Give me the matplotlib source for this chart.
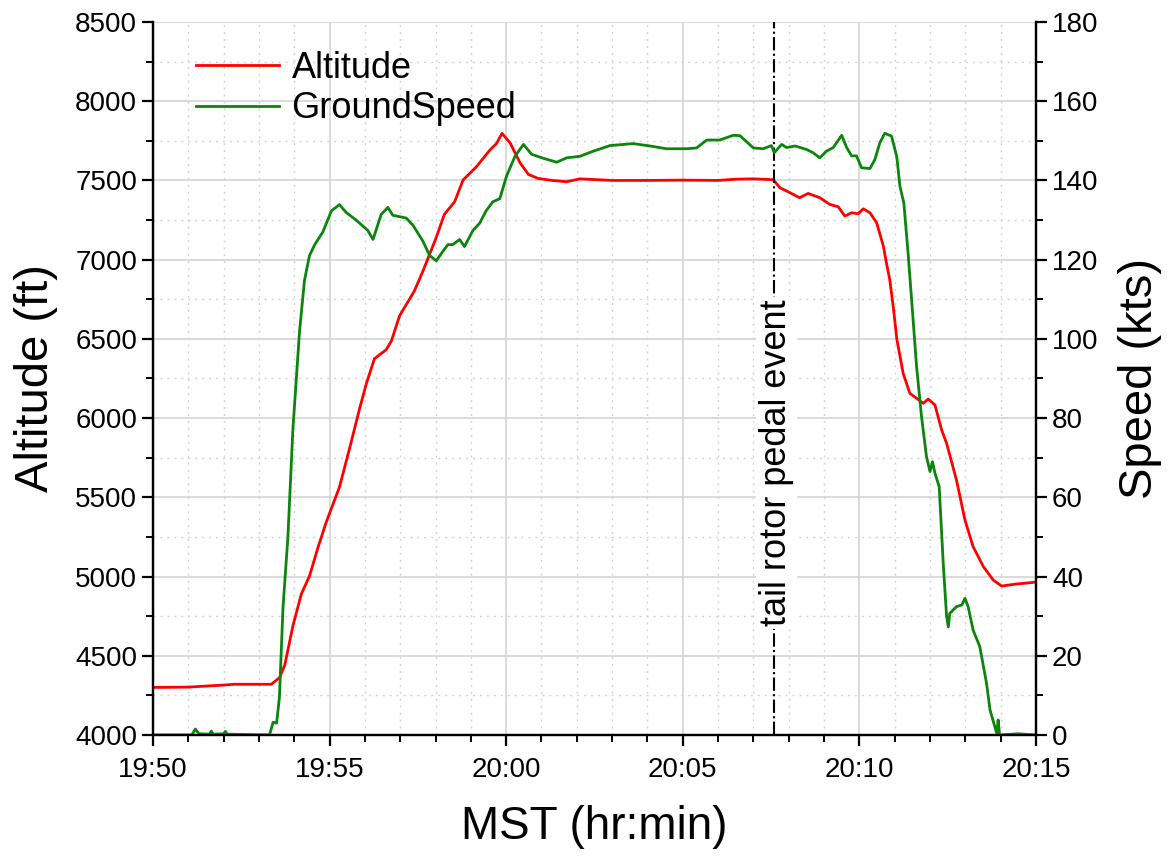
import matplotlib
matplotlib.use('Agg')
import matplotlib.pyplot as plt
from matplotlib.ticker import MultipleLocator

plt.rcParams['font.family'] = ['Liberation Sans', 'DejaVu Sans']

# minutes after 19:50
alt_t = [0.0, 1.0, 2.0, 2.3, 3.35, 3.58, 3.73, 3.96, 4.2, 4.43, 4.67, 4.9, 5.28, 5.57,
         5.85, 6.04, 6.27, 6.6, 6.75, 6.98, 7.4, 7.64, 8.02, 8.25, 8.54, 8.78, 9.16,
         9.54, 9.73, 9.88, 10.11, 10.39, 10.63, 10.9, 11.3, 11.71, 12.09, 13.0, 14.0,
         15.0, 16.0, 16.5, 17.0, 17.56, 17.75, 18.03, 18.31, 18.55, 18.88, 19.16, 19.4,
         19.59, 19.78, 19.97, 20.11, 20.3, 20.49, 20.68, 20.77, 20.86, 20.96, 21.06,
         21.24, 21.43, 21.62, 21.81, 21.95, 22.14, 22.33, 22.47, 22.75, 22.99, 23.22,
         23.51, 23.79, 24.03, 24.45, 24.97]
altitude = [4300, 4302, 4315, 4320, 4320, 4361, 4440, 4687, 4890, 5002, 5182, 5340, 5565,
            5812, 6060, 6217, 6375, 6431, 6487, 6645, 6802, 6926, 7140, 7286, 7365, 7503,
            7587, 7692, 7734, 7797, 7738, 7612, 7538, 7513, 7500, 7492, 7510, 7500, 7500,
            7502, 7500, 7508, 7510, 7505, 7454, 7423, 7391, 7418, 7391, 7349, 7334, 7275,
            7296, 7290, 7321, 7296, 7233, 7085, 6975, 6875, 6702, 6500, 6283, 6156, 6125,
            6093, 6120, 6083, 5925, 5841, 5609, 5357, 5189, 5063, 4978, 4940, 4953, 4964]

spd_t = [0.0, 1.1, 1.2, 1.3, 1.6, 1.65, 1.7, 2.0, 2.05, 2.1, 3.3, 3.4, 3.5, 3.58, 3.68,
         3.82, 3.96, 4.15, 4.29, 4.43, 4.58, 4.81, 5.05, 5.28, 5.47, 5.75, 6.08, 6.23,
         6.46, 6.65, 6.79, 7.17, 7.36, 7.64, 7.83, 8.02, 8.2, 8.35, 8.49, 8.68, 8.82,
         9.06, 9.25, 9.43, 9.62, 9.82, 10.01, 10.25, 10.49, 10.72, 11.05, 11.43, 11.71,
         12.09, 12.47, 12.94, 13.6, 14.07, 14.54, 15.11, 15.39, 15.68, 16.05, 16.43,
         16.62, 17.0, 17.28, 17.51, 17.59, 17.8, 17.94, 18.18, 18.51, 18.69, 18.88,
         19.07, 19.26, 19.5, 19.64, 19.78, 19.92, 20.06, 20.3, 20.44, 20.58, 20.72,
         20.91, 21.06, 21.15, 21.26, 21.38, 21.48, 21.62, 21.76, 21.9, 22.0, 22.07,
         22.14, 22.26, 22.38, 22.47, 22.52, 22.56, 22.75, 22.9, 22.99, 23.08, 23.22,
         23.41, 23.6, 23.7, 23.89, 23.93, 23.97, 24.5, 24.97]
speed = [0, 0, 1.5, 0.3, 0.2, 1.0, 0.2, 0.3, 0.9, 0.2, 0, 3.2, 3.0, 9.5, 32,
         50, 77, 102, 114.8, 121, 123.8, 127, 132.3, 133.9, 131.9, 130, 127.4, 125.1,
         131.4, 133.2, 131.2, 130.5, 128.7, 124.7, 121.1, 119.7, 122, 123.8, 123.8, 125.1, 123.3,
         127.4, 129.2, 132.3, 134.6, 135.4, 141.1, 146.1, 149.1, 146.6, 145.6, 144.6, 145.7,
         146.1, 147.4, 148.8, 149.3, 148.7, 148.0, 148.0, 148.2, 150.2, 150.2, 151.4,
         151.3, 148.2, 148.0, 148.8, 147.0, 149.1, 148.3, 148.7, 147.8, 147.0, 145.7,
         147.4, 148.3, 151.4, 148.3, 146.2, 146.2, 143.2, 143.0, 145.3, 149.5, 151.9,
         151.2, 146.0, 138.5, 134.3, 121.6, 109.8, 93, 80.4, 70.3, 66.5, 69,
         66.1, 62.7, 42.5, 29.9, 27.3, 30.7, 32.4, 32.8, 34.5, 32.4, 26.5,
         22.3, 13.1, 6.3, 0.4, 3.8, 0, 0.3, 0]

event_t = 17.57
xticks = [0, 5, 10, 15, 20, 25]
xlabels = ['19:50', '19:55', '20:00', '20:05', '20:10', '20:15']

fig = plt.figure(figsize=(11.67, 8.56), dpi=100)
ax = fig.add_axes([0.1311, 0.1414, 0.7566, 0.8329])
ax2 = ax.twinx()

l1, = ax.plot(alt_t, altitude, color='#ff0000', lw=2.0, label='Altitude')
l2, = ax2.plot(spd_t, speed, color='#0b850b', lw=2.0, label='GroundSpeed')

ax.axvline(event_t, color='black', lw=1.5, ls='-.', zorder=3)
ax.text(event_t + 0.08, 5717, 'tail rotor pedal event', rotation=90, ha='center', va='center',
        fontsize=26, zorder=4,
        bbox=dict(facecolor='white', edgecolor='none', pad=2))

ax.set_xlim(0, 25)
ax.set_ylim(4000, 8500)
ax2.set_ylim(0, 180)

ax.set_xticks(xticks)
ax.set_xticklabels(xlabels)
ax.xaxis.set_minor_locator(MultipleLocator(1))
ax.yaxis.set_major_locator(MultipleLocator(500))
ax.yaxis.set_minor_locator(MultipleLocator(250))
ax2.yaxis.set_major_locator(MultipleLocator(20))
ax2.yaxis.set_minor_locator(MultipleLocator(10))

ax.grid(which='major', color='#d4d4d4', lw=1.2, ls='-')
ax.grid(which='minor', color='#d4d4d4', lw=1.0, ls=(0, (1.5, 3.5)))
ax.set_axisbelow(True)

for a in (ax, ax2):
    a.spines['top'].set_visible(False)
    for s in a.spines.values():
        s.set_linewidth(1.6)
    a.tick_params(which='major', direction='out', length=8, width=1.6, labelsize=20)
    a.tick_params(which='minor', direction='out', length=5, width=1.4)
ax.tick_params(axis='x', which='major', pad=8)

ax.set_xlabel('MST (hr:min)', fontsize=33, labelpad=16)
ax.set_ylabel('Altitude (ft)', fontsize=34, labelpad=12)
ax2.set_ylabel('Speed (kts)', fontsize=34, labelpad=14)

ax.legend(handles=[l1, l2], loc='upper left', frameon=False, fontsize=26,
          handlelength=2.3, handletextpad=0.35, borderaxespad=0.3, labelspacing=0.15,
          bbox_to_anchor=(0.02, 0.995))

fig.savefig('out.png', dpi=100)
plt.close()
